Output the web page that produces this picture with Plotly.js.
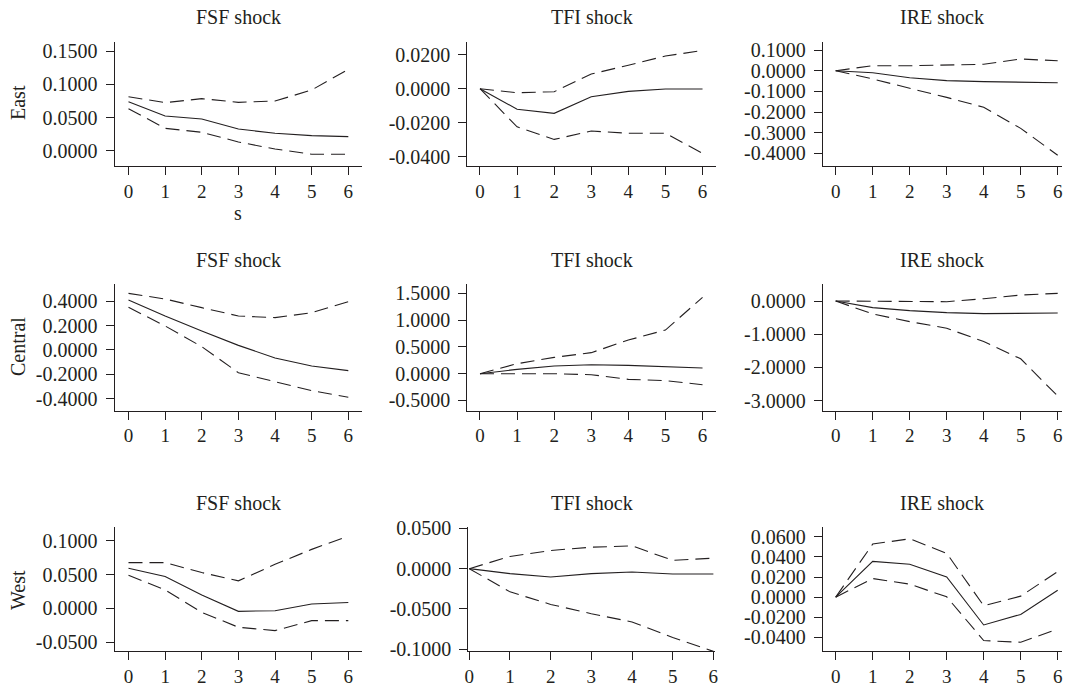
<!DOCTYPE html>
<html>
<head>
<meta charset="utf-8">
<script src="https://cdn.plot.ly/plotly-3.0.1.min.js"></script>
<style>html,body{margin:0;padding:0;background:#fff;}#chart{width:1067px;height:688px;}</style>
</head>
<body>
<div id="chart"></div>
<script>
// ---- data ----
const steps = [0, 1, 2, 3, 4, 5, 6];
const regions = ["East", "Central", "West"];
const shocks = ["FSF shock", "TFI shock", "IRE shock"];

// East
const eastFsfMid = [0.074, 0.0525, 0.048, 0.033, 0.0265, 0.023, 0.0215];
const eastFsfHi  = [0.0815, 0.0725, 0.0785, 0.073, 0.075, 0.0915, 0.1226];
const eastFsfLo  = [0.0635, 0.034, 0.028, 0.0135, 0.003, -0.005, -0.005];
const eastTfiMid = [0, -0.0121, -0.0145, -0.0047, -0.0016, -0.0002, -0.0002];
const eastTfiHi  = [0, -0.0024, -0.0018, 0.0086, 0.0138, 0.0192, 0.0224];
const eastTfiLo  = [0, -0.0224, -0.0298, -0.0249, -0.0262, -0.0262, -0.038];
const eastIreMid = [0, -0.0097, -0.034, -0.048, -0.053, -0.056, -0.058];
const eastIreHi  = [0, 0.024, 0.024, 0.0276, 0.031, 0.0566, 0.048];
const eastIreLo  = [0, -0.040, -0.085, -0.129, -0.177, -0.279, -0.409];
// Central
const centralFsfMid = [0.41, 0.279, 0.156, 0.038, -0.066, -0.131, -0.169];
const centralFsfHi  = [0.464, 0.418, 0.347, 0.279, 0.265, 0.306, 0.396];
const centralFsfLo  = [0.35, 0.197, 0.027, -0.186, -0.26, -0.333, -0.388];
const centralTfiMid = [0, 0.081, 0.143, 0.168, 0.156, 0.131, 0.106];
const centralTfiHi  = [0, 0.187, 0.305, 0.393, 0.629, 0.816, 1.427];
const centralTfiLo  = [0, 0, 0, -0.019, -0.106, -0.131, -0.206];
const centralIreMid = [0, -0.20, -0.29, -0.35, -0.38, -0.38, -0.36];
const centralIreHi  = [0, -0.01, -0.02, -0.02, 0.07, 0.18, 0.23];
const centralIreLo  = [0, -0.39, -0.62, -0.82, -1.22, -1.74, -2.86];
// West
const westFsfMid = [0.0595, 0.0472, 0.0197, -0.0044, -0.0034, 0.0064, 0.0088];
const westFsfHi  = [0.0678, 0.0678, 0.0531, 0.0408, 0.0654, 0.0875, 0.1072];
const westFsfLo  = [0.0492, 0.0275, -0.0059, -0.028, -0.033, -0.0182, -0.0182];
const westTfiMid = [0, -0.0062, -0.0103, -0.0062, -0.0041, -0.0066, -0.0066];
const westTfiHi  = [0, 0.0152, 0.0226, 0.0267, 0.0283, 0.0103, 0.0131];
const westTfiLo  = [0, -0.0288, -0.0444, -0.0559, -0.0662, -0.0855, -0.1027];
const westIreMid = [0, 0.0356, 0.0327, 0.0201, -0.0277, -0.0172, 0.0069];
const westIreHi  = [0, 0.0528, 0.0581, 0.0436, -0.0086, 0.001, 0.0254];
const westIreLo  = [0, 0.0185, 0.0129, 0.0003, -0.0432, -0.0449, -0.0317];

// y tick values
const eastFsfTicks = [0.15, 0.10, 0.05, 0];
const eastTfiTicks = [0.02, 0, -0.02, -0.04];
const eastIreTicks = [0.1, 0, -0.1, -0.2, -0.3, -0.4];
const centralFsfTicks = [0.4, 0.2, 0, -0.2, -0.4];
const centralTfiTicks = [1.5, 1.0, 0.5, 0, -0.5];
const centralIreTicks = [0, -1, -2, -3];
const westFsfTicks = [0.1, 0.05, 0, -0.05];
const westTfiTicks = [0.05, 0, -0.05, -0.1];
const westIreTicks = [0.06, 0.04, 0.02, 0, -0.02, -0.04];

// ---- layout geometry (pixels) ----
const W = 1067, H = 688;
const panels = [
  {mid: eastFsfMid, hi: eastFsfHi, lo: eastFsfLo, ticks: eastFsfTicks, xd: [114.5, 361.5], xr: [-0.382, 6.36], yd: [41.7, 166.3], yr: [-0.023, 0.164]},
  {mid: eastTfiMid, hi: eastTfiHi, lo: eastTfiLo, ticks: eastTfiTicks, xd: [467.3, 715.7], xr: [-0.342, 6.355], yd: [41.7, 166.3], yr: [-0.0456, 0.0276]},
  {mid: eastIreMid, hi: eastIreHi, lo: eastIreLo, ticks: eastIreTicks, xd: [822.7, 1061.7], xr: [-0.351, 6.108], yd: [41.7, 166.3], yr: [-0.4625, 0.1403]},
  {mid: centralFsfMid, hi: centralFsfHi, lo: centralFsfLo, ticks: centralFsfTicks, xd: [114.5, 361.5], xr: [-0.382, 6.36], yd: [284.3, 410.5], yr: [-0.496, 0.5385]},
  {mid: centralTfiMid, hi: centralTfiHi, lo: centralTfiLo, ticks: centralTfiTicks, xd: [467.3, 715.7], xr: [-0.342, 6.355], yd: [284.3, 410.5], yr: [-0.688, 1.671]},
  {mid: centralIreMid, hi: centralIreHi, lo: centralIreLo, ticks: centralIreTicks, xd: [822.7, 1061.7], xr: [-0.351, 6.108], yd: [284.3, 410.5], yr: [-3.295, 0.503]},
  {mid: westFsfMid, hi: westFsfHi, lo: westFsfLo, ticks: westFsfTicks, xd: [114.5, 361.5], xr: [-0.382, 6.36], yd: [527.2, 651.2], yr: [-0.0635, 0.1204]},
  {mid: westTfiMid, hi: westTfiHi, lo: westTfiLo, ticks: westTfiTicks, xd: [468.3, 715], xr: [-0.025, 6.04], yd: [527.2, 651.2], yr: [-0.1025, 0.0515]},
  {mid: westIreMid, hi: westIreHi, lo: westIreLo, ticks: westIreTicks, xd: [822.7, 1061.7], xr: [-0.351, 6.108], yd: [527.2, 651.2], yr: [-0.0538, 0.0696]}
];

const ink = '#231f20';
const FONT = 'Liberation Serif, Times New Roman, serif';
const FS = 20;
const traces = [];
const layout = {
  width: W, height: H,
  margin: {l: 0, r: 0, t: 0, b: 0},
  paper_bgcolor: '#fff', plot_bgcolor: '#fff',
  showlegend: false,
  font: {family: FONT, size: FS, color: ink},
  annotations: []
};

panels.forEach((p, i) => {
  const n = i === 0 ? '' : String(i + 1);
  const xa = 'x' + n, ya = 'y' + n;
  const lineMid = {color: ink, width: 1.1};
  const lineDash = {color: ink, width: 1.1, dash: '14px,7px'};
  traces.push({x: steps, y: p.hi, xaxis: xa, yaxis: ya, mode: 'lines', line: lineDash, hoverinfo: 'skip'});
  traces.push({x: steps, y: p.lo, xaxis: xa, yaxis: ya, mode: 'lines', line: lineDash, hoverinfo: 'skip'});
  traces.push({x: steps, y: p.mid, xaxis: xa, yaxis: ya, mode: 'lines', line: lineMid, hoverinfo: 'skip'});
  const common = {
    showline: true, linecolor: ink, linewidth: 1, mirror: false,
    showgrid: false, zeroline: false,
    ticks: 'outside', ticklen: 8, tickwidth: 1, tickcolor: ink,
    fixedrange: true
  };
  layout['xaxis' + n] = Object.assign({}, common, {
    domain: [p.xd[0] / W, p.xd[1] / W], range: p.xr, anchor: ya,
    tickfont: {family: FONT, size: 19, color: ink},
    tickvals: steps, ticktext: steps.map(String)
  });
  layout['yaxis' + n] = Object.assign({}, common, {
    domain: [1 - p.yd[1] / H, 1 - p.yd[0] / H], range: p.yr, anchor: xa,
    tickfont: {family: FONT, size: FS, color: ink},
    ticklabelstandoff: 4,
    tickvals: p.ticks, ticktext: p.ticks.map(v => (Math.abs(v) < 1e-12 ? 0 : v).toFixed(4))
  });
  // panel title
  const row = Math.floor(i / 3), col = i % 3;
  const titleY = [17, 260, 503][row];
  layout.annotations.push({
    text: shocks[col], xref: 'paper', yref: 'paper',
    x: (p.xd[0] + p.xd[1]) / 2 / W, y: 1 - titleY / H,
    xanchor: 'center', yanchor: 'middle', showarrow: false,
    font: {family: FONT, size: FS, color: ink}
  });
});

// row labels
const rowLabelY = [103, 347, 590];
regions.forEach((r, k) => {
  layout.annotations.push({
    text: r, xref: 'paper', yref: 'paper', x: 18 / W, y: 1 - rowLabelY[k] / H,
    xanchor: 'center', yanchor: 'middle', textangle: -90, showarrow: false,
    font: {family: FONT, size: FS, color: ink}
  });
});
// x label under first panel
layout.annotations.push({
  text: 's', xref: 'paper', yref: 'paper', x: 238 / W, y: 1 - 213 / H,
  xanchor: 'center', yanchor: 'middle', showarrow: false,
  font: {family: FONT, size: FS, color: ink}
});

Plotly.newPlot('chart', traces, layout, {staticPlot: true, displayModeBar: false});
</script>
</body>
</html>
